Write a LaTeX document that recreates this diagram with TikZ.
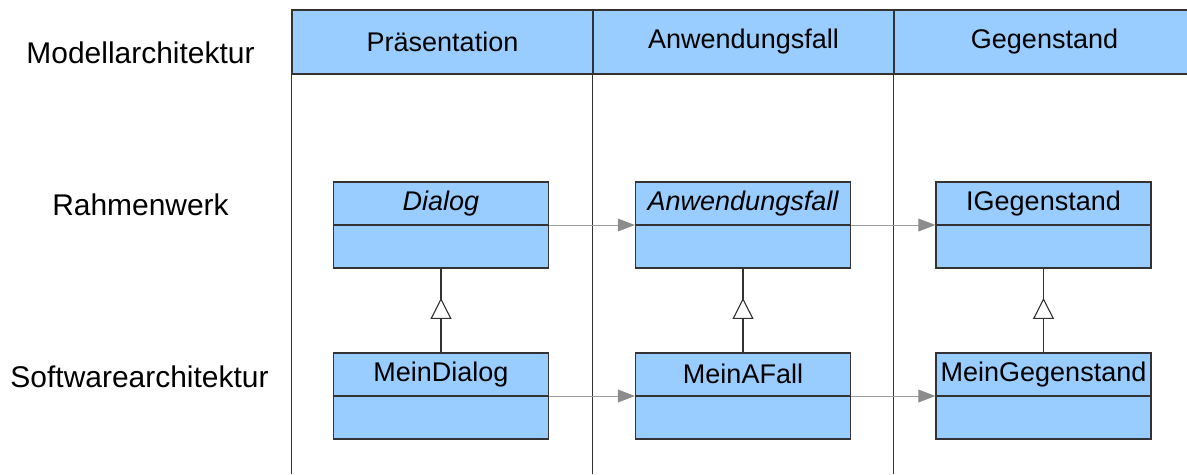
\documentclass[tikz,border=0pt]{standalone}
\usepackage{fontspec}
\setmainfont{Liberation Sans}
\usetikzlibrary{arrows.meta}
\usetikzlibrary{decorations.markings}
\usetikzlibrary{positioning}

\definecolor{umlblau}{HTML}{99CCFF}
\definecolor{umlrand}{HTML}{333333}
\definecolor{pfeilgrau}{HTML}{8C8C8C}

\tikzset{
	kopf/.style={draw=umlrand, fill=umlblau, line width=0.9pt, minimum width=7.525cm,
	             minimum height=1.6cm, inner sep=0pt, font=\fontsize{19.2}{23}\selectfont},
	klasse/.style={draw=umlrand, fill=umlblau, line width=0.9pt, minimum width=5.375cm,
	               minimum height=2.15cm, inner sep=0pt},
	klassenname/.style={anchor=north, minimum height=1.075cm, inner sep=0pt,
	                    font=\fontsize{19.2}{23}\selectfont},
	ebene/.style={font=\fontsize{21.3}{25}\selectfont, inner sep=0pt},
	bahn/.style={draw=umlrand, line width=0.9pt},
	pfeil/.style={draw=pfeilgrau!85, line width=0.7pt,
	              -{Triangle[length=4.25mm, width=3.2mm, color=pfeilgrau]}},
	erbt/.style={draw=umlrand, line width=0.8pt, postaction={decorate},
	             decoration={markings, mark=at position 0.65 with
	             {\arrow{Triangle[length=5.25mm, width=5.25mm, color=umlrand, fill=white]}}}}
}

\begin{document}
\begin{tikzpicture}[x=0.025cm, y=-0.025cm]
	\useasboundingbox (0,0) rectangle (1187,474);
	\coordinate (unten) at (0,474);

	% Ebenen
	\node[ebene] (modell) at (140.5,53) {Modellarchitektur};
	\node[ebene] (rahmen) at (140.5,205) {Rahmenwerk};
	\node[ebene] (software) at (139.5,377) {Softwarearchitektur};

	% Spalten
	\begin{scope}[every node/.style={kopf}]
		\node (praes) at (442.5,42) {Präsentation};
		\node (fall) at (743.5,42) {Anwendungsfall};
		\node (gegen) at (1044.5,42) {Gegenstand};
	\end{scope}
	\draw[bahn] (praes.south west) -- (praes.south west |- unten);
	\draw[bahn] (fall.south west) -- (fall.south west |- unten);
	\draw[bahn] (gegen.south west) -- (gegen.south west |- unten);

	% Klassen
	\begin{scope}[every node/.style={klasse}]
		\node (dialog) at (441,225) {};
		\node (afall) at (743,225) {};
		\node (igegen) at (1043.5,225) {};
		\node (meindialog) at (441,396) {};
		\node (meinafall) at (743,396) {};
		\node (meingegen) at (1043.5,396) {};
	\end{scope}
	\foreach \k in {dialog, afall, igegen, meindialog, meinafall, meingegen}
		\draw[umlrand, line width=0.9pt] (\k.west) -- (\k.east);

	\node[klassenname] (dialog-name) at (dialog.north) {\itshape Dialog};
	\node[klassenname] (afall-name) at (afall.north) {\itshape Anwendungsfall};
	\node[klassenname] (igegen-name) at (igegen.north) {IGegenstand};
	\node[klassenname] (meindialog-name) at (meindialog.north) {MeinDialog};
	\node[klassenname] (meinafall-name) at (meinafall.north) {MeinAFall};
	\node[klassenname] (meingegen-name) at (meingegen.north) {MeinGegenstand};

	% Beziehungen
	\draw[pfeil] (dialog.east) -- (afall.west);
	\draw[pfeil] (afall.east) -- (igegen.west);
	\draw[pfeil] (meindialog.east) -- (meinafall.west);
	\draw[pfeil] (meinafall.east) -- (meingegen.west);

	\draw[erbt] (meindialog.north) -- (dialog.south);
	\draw[erbt] (meinafall.north) -- (afall.south);
	\draw[erbt] (meingegen.north) -- (igegen.south);
\end{tikzpicture}
\end{document}
